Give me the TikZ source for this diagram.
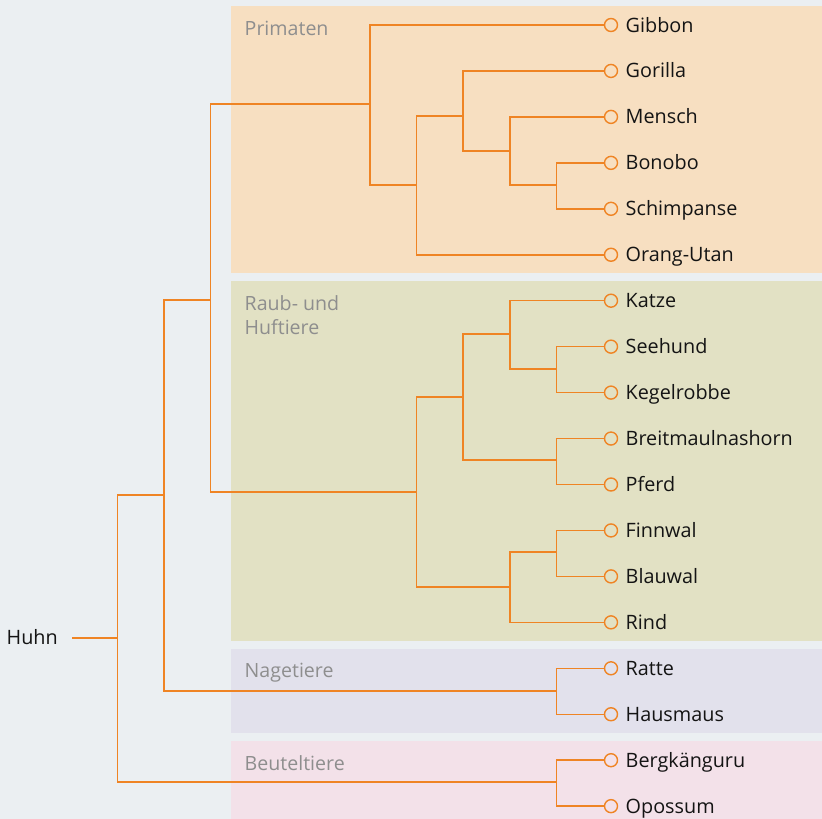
\documentclass[tikz,border=0pt]{standalone}
\usepackage{fontspec}
\setmainfont{Open Sans}
\definecolor{bgc}{HTML}{EBEFF2}
\definecolor{primc}{HTML}{F7DFC1}
\definecolor{raubc}{HTML}{E2E1C4}
\definecolor{nagec}{HTML}{E2E1EC}
\definecolor{beutc}{HTML}{F3E1E9}
\definecolor{orn}{HTML}{EF8424}
\definecolor{grp}{HTML}{8E8E8E}
\definecolor{txt}{HTML}{141414}
\tikzset{
  br/.style={draw=orn, line width=1.5pt},
  leaf/.style={circle, draw=orn, line width=1.4pt, minimum size=13pt, inner sep=0pt},
  lab/.style={anchor=base west, inner sep=0pt, font=\fontsize{19.8}{23}\selectfont, text=txt},
  grplab/.style={anchor=base west, inner sep=0pt, font=\fontsize{19.6}{24}\selectfont, text=grp, align=left},
}
\begin{document}
\begin{tikzpicture}[x=1pt,y=-1pt]
\useasboundingbox (0,0) rectangle (822,819);
\fill[bgc] (0,0) rectangle (822,819);
% panels
\fill[primc] (231,6) rectangle (822,273);
\fill[raubc] (231,281) rectangle (822,641);
\fill[nagec] (231,649) rectangle (822,733);
\fill[beutc] (231,741) rectangle (822,819);
% group labels
\node[grplab] (gPrim) at (244.5,35) {Primaten};
\node[grplab, anchor=north west] (gRaub) at (244.5,295.5) {Raub- und\\Huftiere};
\node[grplab] (gNage) at (244.5,677.3) {Nagetiere};
\node[grplab] (gBeut) at (244.5,770) {Beuteltiere};
% leaves
\foreach \nm/\txtlab [count=\i from 0] in {
  Gibbon/Gibbon, Gorilla/Gorilla, Mensch/Mensch, Bonobo/Bonobo,
  Schimpanse/Schimpanse, Orang/Orang-Utan, Katze/Katze, Seehund/Seehund,
  Kegelrobbe/Kegelrobbe, Breit/Breitmaulnashorn, Pferd/Pferd, Finnwal/Finnwal,
  Blauwal/Blauwal, Rind/Rind, Ratte/Ratte, Hausmaus/Hausmaus,
  Bergk/Bergk\"anguru, Opossum/Opossum}{
  \pgfmathsetmacro{\yy}{25+45.95*\i}
  \node[leaf] (\nm) at (611,\yy) {};
  \node[lab] (\nm-t) at (625.5,\yy+7) {\txtlab};
}
% Huhn
\node[lab] (Huhn) at (6.5,644) {Huhn};
\coordinate (h0) at (72,638);
% internal nodes
\coordinate (A) at (556.5,185);
\coordinate (B) at (510,151);
\coordinate (C) at (463,116);
\coordinate (D) at (416.5,185);
\coordinate (E) at (370,104);
\coordinate (F) at (210.5,300);
\coordinate (G) at (556.5,369);
\coordinate (H) at (510,334);
\coordinate (I) at (556.5,460);
\coordinate (J) at (463,397);
\coordinate (K) at (556.5,552);
\coordinate (L) at (510,587);
\coordinate (M) at (416.5,492);
\coordinate (N) at (556.5,691);
\coordinate (O) at (556.5,782);
\coordinate (P) at (164,495);
\coordinate (Q) at (117.5,638);
% connectors
\draw[br] (h0) -- (Q);
\draw[br] (Q) |- (P);
\draw[br] (Q) |- (O);
\draw[br] (P) |- (F);
\draw[br] (P) |- (N);
\draw[br] (F) |- (E);
\draw[br] (F) |- (M);
\draw[br] (E) |- (Gibbon.west);
\draw[br] (E) |- (D);
\draw[br] (D) |- (C);
\draw[br] (D) |- (Orang.west);
\draw[br] (C) |- (Gorilla.west);
\draw[br] (C) |- (B);
\draw[br] (B) |- (Mensch.west);
\draw[br] (B) |- (A);
\draw[br] (A) |- (Bonobo.west);
\draw[br] (A) |- (Schimpanse.west);
\draw[br] (M) |- (J);
\draw[br] (M) |- (L);
\draw[br] (J) |- (H);
\draw[br] (J) |- (I);
\draw[br] (H) |- (Katze.west);
\draw[br] (H) |- (G);
\draw[br] (G) |- (Seehund.west);
\draw[br] (G) |- (Kegelrobbe.west);
\draw[br] (I) |- (Breit.west);
\draw[br] (I) |- (Pferd.west);
\draw[br] (L) |- (K);
\draw[br] (L) |- (Rind.west);
\draw[br] (K) |- (Finnwal.west);
\draw[br] (K) |- (Blauwal.west);
\draw[br] (N) |- (Ratte.west);
\draw[br] (N) |- (Hausmaus.west);
\draw[br] (O) |- (Bergk.west);
\draw[br] (O) |- (Opossum.west);
\end{tikzpicture}
\end{document}
